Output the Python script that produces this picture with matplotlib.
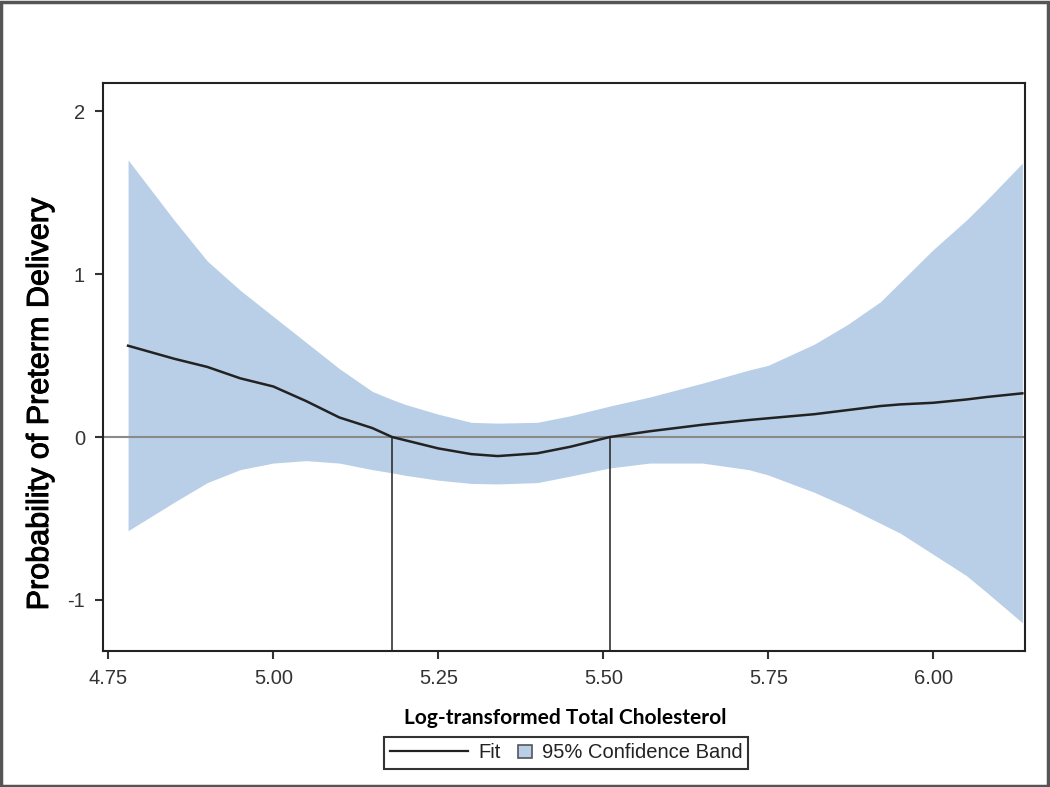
import numpy as np
import matplotlib
matplotlib.use("Agg")
import matplotlib.pyplot as plt
import matplotlib.patheffects as pe
from matplotlib.patches import Rectangle, Patch
from matplotlib.lines import Line2D
from matplotlib.legend_handler import HandlerPatch

# values
chol = [4.78, 4.85, 4.90, 4.95, 5.00, 5.05, 5.10, 5.15, 5.18, 5.20, 5.25,
        5.30, 5.34, 5.40, 5.45, 5.51, 5.57, 5.65, 5.72, 5.75, 5.82, 5.87,
        5.92, 5.95, 6.00, 6.05, 6.08, 6.135]
fit = [0.56, 0.48, 0.43, 0.36, 0.31, 0.22, 0.12, 0.055, 0.00, -0.02, -0.07,
       -0.105, -0.117, -0.10, -0.06, 0.00, 0.035, 0.075, 0.104, 0.115, 0.14,
       0.165, 0.19, 0.20, 0.21, 0.23, 0.245, 0.268]
upper = [1.70, 1.33, 1.08, 0.90, 0.74, 0.58, 0.42, 0.28, 0.23, 0.20, 0.14,
         0.09, 0.085, 0.09, 0.13, 0.19, 0.245, 0.33, 0.41, 0.44, 0.57, 0.69,
         0.83, 0.95, 1.15, 1.33, 1.45, 1.68]
lower = [-0.575, -0.40, -0.28, -0.20, -0.16, -0.145, -0.16, -0.20, -0.22,
         -0.235, -0.265, -0.285, -0.288, -0.28, -0.24, -0.19, -0.16, -0.16,
         -0.20, -0.233, -0.34, -0.43, -0.53, -0.59, -0.72, -0.85, -0.95, -1.14]
crossings = [5.18, 5.51]

xticks = [4.75, 5.00, 5.25, 5.50, 5.75, 6.00]
yticks = [-1, 0, 1, 2]

band_col = "#b9cfe7"
W, H = 1050, 787
fig = plt.figure(figsize=(W / 100, H / 100), dpi=100)
ax = fig.add_axes([103 / W, 1 - 651 / H, (1025 - 103) / W, (651 - 83) / H])

ax.set_xlim(4.742, 6.139)
ax.set_ylim(-1.313, 2.172)

ax.fill_between(chol, lower, upper, color=band_col, lw=0)
ax.axhline(0, color="#8a8a8a", lw=1.5)
ax.plot(chol, fit, color="#222222", lw=1.8)
ymin = ax.get_ylim()[0]
ax.vlines(crossings, ymin, 0, color="#222222", lw=1.1)

ax.set_xticks(xticks)
ax.set_xticklabels(["%.2f" % v for v in xticks])
ax.set_yticks(yticks)
ax.set_yticklabels([str(v) for v in yticks])
ax.tick_params(direction="out", length=6, width=1.5, colors="#333333",
               labelsize=14.5, pad=7)
for lab in ax.get_xticklabels() + ax.get_yticklabels():
    lab.set_fontfamily("Liberation Sans")
for sp in ax.spines.values():
    sp.set_linewidth(1.5)
    sp.set_color("#222222")

ylab = fig.text(40 / W, 1 - 405 / H, "Probability of Preterm Delivery", rotation=90,
                ha="center", va="center", fontsize=22, family="Liberation Sans")
ylab.set_path_effects([pe.withStroke(linewidth=0.7, foreground="black")])
fig.text(565 / W, 1 - 718 / H, "Log-transformed Total Cholesterol",
         ha="center", va="center", fontsize=15, fontweight="bold", family="Lato")


def small_square(legend, orig_handle, xdescent, ydescent, width, height, fontsize):
    s = height * 0.95
    return Rectangle((-xdescent + width - s, -ydescent + (height - s) / 2), s, s)


handles = [Line2D([], [], color="#222222", lw=1.6),
           Patch(facecolor=band_col, edgecolor="#555555", lw=1.2)]
leg = fig.legend(handles, ["Fit", "95% Confidence Band"], ncol=2,
                 loc="center", bbox_to_anchor=(566 / W, 1 - 753 / H),
                 fancybox=False, edgecolor="#333333", framealpha=1,
                 prop={"family": "Liberation Sans", "size": 14.5},
                 handlelength=3.9, handletextpad=0.5, columnspacing=-2.35,
                 borderpad=0.3, borderaxespad=0,
                 handler_map={Patch: HandlerPatch(patch_func=small_square)})
leg.get_frame().set_linewidth(1.5)
for t in leg.get_texts():
    t.set_color("#222222")

# outer frame around the whole image
fig.patches.append(Rectangle((0.001, 0.001), 0.997, 0.997, transform=fig.transFigure,
                             fill=False, edgecolor="#555555", lw=2.5))

fig.savefig("out.png", dpi=100)
